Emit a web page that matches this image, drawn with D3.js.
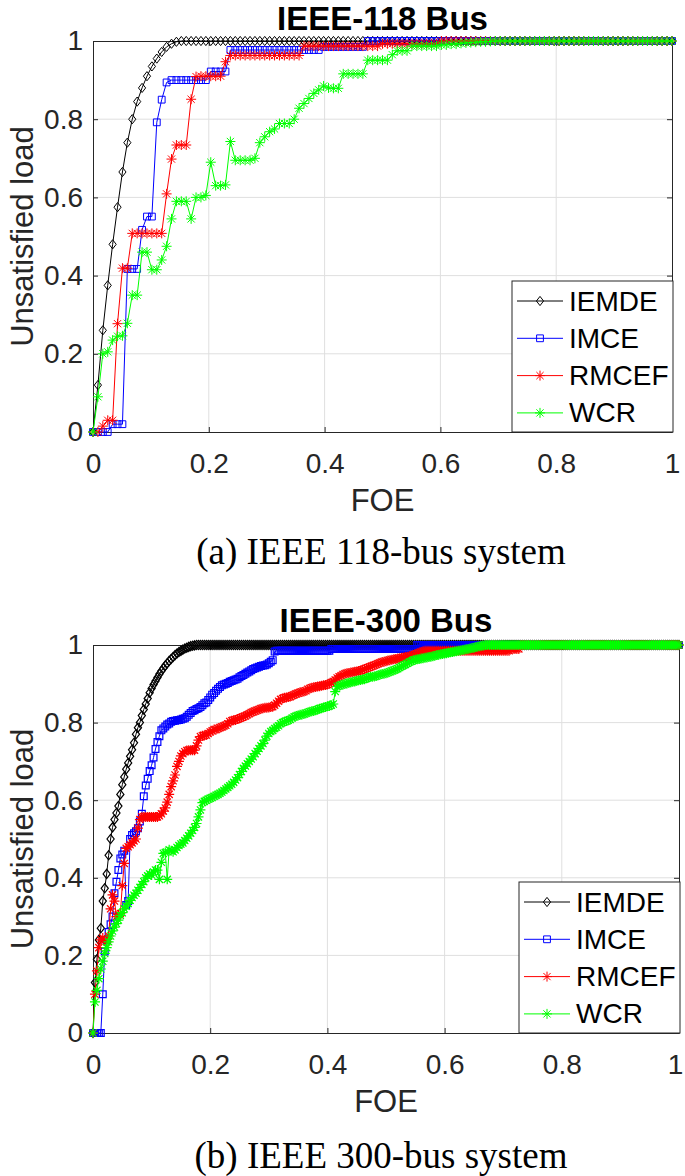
<!DOCTYPE html>
<html>
<head>
<meta charset="utf-8">
<script src="https://cdn.jsdelivr.net/npm/d3@7"></script>
<style>
  body { margin: 0; background: #ffffff; }
  svg { display: block; }
</style>
</head>
<body>
<svg id="chart" width="685" height="1176"></svg>
<script>
'use strict';

// ---- data -----------------------------------------------------------
// FOE is sampled on a uniform grid: point i sits at FOE = i / steps.
const steps118 = 118;
const steps300 = 300;

const seriesNames = ['IEMDE', 'IMCE', 'RMCEF', 'WCR'];
const xTickValues = [0, 0.2, 0.4, 0.6, 0.8, 1];
const yTickValues = [0, 0.2, 0.4, 0.6, 0.8, 1];

// IEEE-118, 119 values each
const iemde118 = [
    0, .12, .26, .375, .48, .575, .665, .74, .80, .845,
    .88, .91, .935, .955, .972, .985, .993, .998, 1, 1,
    1, 1, 1, 1, 1, 1, 1, 1, 1, 1,
    1, 1, 1, 1, 1, 1, 1, 1, 1, 1,
    1, 1, 1, 1, 1, 1, 1, 1, 1, 1,
    1, 1, 1, 1, 1, 1, 1, 1, 1, 1,
    1, 1, 1, 1, 1, 1, 1, 1, 1, 1,
    1, 1, 1, 1, 1, 1, 1, 1, 1, 1,
    1, 1, 1, 1, 1, 1, 1, 1, 1, 1,
    1, 1, 1, 1, 1, 1, 1, 1, 1, 1,
    1, 1, 1, 1, 1, 1, 1, 1, 1, 1,
    1, 1, 1, 1, 1, 1, 1, 1, 1
];
const imce118 = [
    0, 0, 0, 0, .02, .02, .02, .417, .417, .417,
    .517, .551, .551, .792, .85, .894, .90, .90, .90, .90,
    .90, .90, .90, .90, .922, .922, .922, .922, .977, .977,
    .977, .977, .977, .977, .977, .977, .977, .977, .977, .977,
    .977, .977, .977, .977, .977, .977, .977, .985, .985, .985,
    .985, .985, .985, .985, .985, .985, 1, 1, 1, 1,
    1, 1, 1, 1, 1, 1, 1, 1, 1, 1,
    1, 1, 1, 1, 1, 1, 1, 1, 1, 1,
    1, 1, 1, 1, 1, 1, 1, 1, 1, 1,
    1, 1, 1, 1, 1, 1, 1, 1, 1, 1,
    1, 1, 1, 1, 1, 1, 1, 1, 1, 1,
    1, 1, 1, 1, 1, 1, 1, 1, 1
];
const rmcef118 = [
    0, 0, .015, .03, .03, .277, .419, .419, .508, .508,
    .508, .508, .508, .508, .508, .609, .698, .734, .734, .734,
    .851, .909, .91, .91, .91, .91, .91, .947, .963, .963,
    .963, .963, .963, .963, .963, .963, .963, .963, .963, .963,
    .963, .963, .963, .987, .987, .987, .987, .987, .987, .987,
    .987, .987, .987, .987, .987, .987, .987, .987, .987, .993,
    .993, .993, .993, .993, .993, .993, .993, .993, .993, .993,
    .993, 1, 1, 1, 1, 1, 1, 1, 1, 1,
    1, 1, 1, 1, 1, 1, 1, 1, 1, 1,
    1, 1, 1, 1, 1, 1, 1, 1, 1, 1,
    1, 1, 1, 1, 1, 1, 1, 1, 1, 1,
    1, 1, 1, 1, 1, 1, 1, 1, 1
];
const wcr118 = [
    0, .09, .20, .205, .235, .245, .246, .278, .35, .35,
    .46, .46, .415, .415, .44, .475, .545, .59, .59, .59,
    .545, .60, .60, .605, .69, .63, .63, .632, .743, .695,
    .695, .695, .695, .70, .74, .755, .768, .775, .789, .789,
    .789, .80, .828, .84, .853, .866, .875, .885, .88, .879,
    .879, .916, .916, .916, .916, .916, .951, .951, .951, .951,
    .951, .965, .975, .975, .975, .987, .987, .987, .987, .987,
    .987, .99, .99, .992, .992, .994, .995, .996, .997, .998,
    .998, .999, 1, 1, 1, 1, 1, 1, 1, 1,
    1, 1, 1, 1, 1, 1, 1, 1, 1, 1,
    1, 1, 1, 1, 1, 1, 1, 1, 1, 1,
    1, 1, 1, 1, 1, 1, 1, 1, 1
];

// IEEE-300, 301 values each
const iemde300 = [
    0, .13, .19, .24, .27, .34, .373, .41, .458, .50,
    .53, .55, .567, .585, .615, .64, .66, .68, .696, .713,
    .73, .748, .77, .787, .80, .818, .834, .848, .862, .877,
    .888, .898, .907, .916, .925, .933, .94, .947, .953, .959,
    .964, .969, .974, .978, .982, .985, .988, .991, .993, .995,
    .997, .998, .999, 1, 1, 1, 1, 1, 1, 1,
    1, 1, 1, 1, 1, 1, 1, 1, 1, 1,
    1, 1, 1, 1, 1, 1, 1, 1, 1, 1,
    1, 1, 1, 1, 1, 1, 1, 1, 1, 1,
    1, 1, 1, 1, 1, 1, 1, 1, 1, 1,
    1, 1, 1, 1, 1, 1, 1, 1, 1, 1,
    1, 1, 1, 1, 1, 1, 1, 1, 1, 1,
    1, 1, 1, 1, 1, 1, 1, 1, 1, 1,
    1, 1, 1, 1, 1, 1, 1, 1, 1, 1,
    1, 1, 1, 1, 1, 1, 1, 1, 1, 1,
    1, 1, 1, 1, 1, 1, 1, 1, 1, 1,
    1, 1, 1, 1, 1, 1, 1, 1, 1, 1,
    1, 1, 1, 1, 1, 1, 1, 1, 1, 1,
    1, 1, 1, 1, 1, 1, 1, 1, 1, 1,
    1, 1, 1, 1, 1, 1, 1, 1, 1, 1,
    1, 1, 1, 1, 1, 1, 1, 1, 1, 1,
    1, 1, 1, 1, 1, 1, 1, 1, 1, 1,
    1, 1, 1, 1, 1, 1, 1, 1, 1, 1,
    1, 1, 1, 1, 1, 1, 1, 1, 1, 1,
    1, 1, 1, 1, 1, 1, 1, 1, 1, 1,
    1, 1, 1, 1, 1, 1, 1, 1, 1, 1,
    1, 1, 1, 1, 1, 1, 1, 1, 1, 1,
    1, 1, 1, 1, 1, 1, 1, 1, 1, 1,
    1, 1, 1, 1, 1, 1, 1, 1, 1, 1,
    1, 1, 1, 1, 1, 1, 1, 1, 1, 1,
    1
];
const imce300 = [
    0, 0, 0, 0, 0, .10, .21, .24, .26, .28,
    .30, .36, .39, .42, .45, .46, .47, .33, .34, .50,
    .51, .515, .52, .528, .545, .565, .61, .638, .655, .675,
    .69, .71, .732, .75, .765, .78, .785, .79, .795, .798,
    .802, .804, .805, .806, .807, .808, .81, .811, .815, .82,
    .825, .83, .832, .835, .837, .84, .845, .85, .852, .858,
    .865, .872, .876, .882, .887, .892, .896, .898, .90, .902,
    .905, .907, .909, .911, .913, .917, .92, .923, .926, .929,
    .932, .935, .938, .94, .942, .944, .946, .947, .948, .95,
    .953, .957, .961, .983, .985, .985, .985, .985, .985, .985,
    .985, .985, .985, .985, .985, .985, .985, .985, .985, .985,
    .985, .985, .985, .985, .985, .985, .985, .985, .985, .985,
    .985, .985, .99, .99, .99, .99, .99, .99, .99, .99,
    .99, .99, .99, .99, .99, .99, .99, .99, .99, .99,
    .99, .99, .99, .99, .99, .99, .99, .99, .99, .99,
    .99, .99, .99, .99, .99, .99, .99, .99, .99, .99,
    .99, .99, .99, .99, .99, .99, 1, 1, 1, 1,
    1, 1, 1, 1, 1, 1, 1, 1, 1, 1,
    1, 1, 1, 1, 1, 1, 1, 1, 1, 1,
    1, 1, 1, 1, 1, 1, 1, 1, 1, 1,
    1, 1, 1, 1, 1, 1, 1, 1, 1, 1,
    1, 1, 1, 1, 1, 1, 1, 1, 1, 1,
    1, 1, 1, 1, 1, 1, 1, 1, 1, 1,
    1, 1, 1, 1, 1, 1, 1, 1, 1, 1,
    1, 1, 1, 1, 1, 1, 1, 1, 1, 1,
    1, 1, 1, 1, 1, 1, 1, 1, 1, 1,
    1, 1, 1, 1, 1, 1, 1, 1, 1, 1,
    1, 1, 1, 1, 1, 1, 1, 1, 1, 1,
    1, 1, 1, 1, 1, 1, 1, 1, 1, 1,
    1, 1, 1, 1, 1, 1, 1, 1, 1, 1,
    1
];
const rmcef300 = [
    0, .10, .16, .22, .24, .245, .24, .235, .25, .32,
    .356, .34, .30, .305, .308, .38, .437, .476, .48, .485,
    .49, .495, .50, .528, .55, .557, .557, .557, .557, .557,
    .557, .557, .557, .557, .56, .565, .572, .58, .595, .615,
    .635, .65, .665, .687, .70, .714, .72, .725, .728, .729,
    .729, .729, .729, .74, .755, .764, .766, .767, .768, .772,
    .776, .779, .782, .782, .785, .787, .789, .791, .793, .797,
    .803, .805, .806, .807, .809, .811, .813, .815, .817, .82,
    .823, .826, .828, .83, .832, .834, .836, .837, .838, .838,
    .839, .84, .841, .845, .85, .855, .86, .862, .864, .865,
    .866, .867, .87, .872, .874, .876, .878, .879, .88, .882,
    .886, .888, .89, .891, .892, .893, .894, .895, .896, .897,
    .898, .90, .903, .906, .91, .915, .918, .921, .924, .926,
    .927, .928, .929, .93, .931, .932, .933, .934, .936, .938,
    .94, .942, .944, .946, .948, .95, .952, .954, .956, .957,
    .958, .96, .961, .962, .963, .964, .965, .966, .967, .968,
    .969, .97, .971, .972, .974, .976, .978, .98, .982, .984,
    .985, .985, .985, .985, .985, .985, .985, .985, .985, .985,
    .985, .985, .985, .985, .985, .985, .985, .985, .985, .985,
    .985, .985, .985, .985, .985, .985, .985, .985, .985, .985,
    .985, .985, .985, .985, .985, .985, .985, .985, .985, .985,
    .985, .985, .985, .985, .99, .99, .99, .99, .99, 1,
    1, 1, 1, 1, 1, 1, 1, 1, 1, 1,
    1, 1, 1, 1, 1, 1, 1, 1, 1, 1,
    1, 1, 1, 1, 1, 1, 1, 1, 1, 1,
    1, 1, 1, 1, 1, 1, 1, 1, 1, 1,
    1, 1, 1, 1, 1, 1, 1, 1, 1, 1,
    1, 1, 1, 1, 1, 1, 1, 1, 1, 1,
    1, 1, 1, 1, 1, 1, 1, 1, 1, 1,
    1, 1, 1, 1, 1, 1, 1, 1, 1, 1,
    1
];
const wcr300 = [
    0, .08, .11, .14, .165, .185, .205, .22, .235, .25,
    .263, .273, .282, .291, .303, .31, .32, .327, .334, .342,
    .349, .355, .36, .368, .375, .383, .39, .40, .405, .41,
    .407, .415, .42, .42, .396, .44, .463, .465, .396, .472,
    .47, .467, .472, .478, .483, .487, .49, .496, .502, .508,
    .515, .522, .53, .54, .557, .575, .594, .597, .60, .603,
    .605, .607, .61, .613, .615, .618, .621, .625, .629, .633,
    .637, .641, .646, .652, .658, .666, .674, .682, .688, .694,
    .70, .706, .712, .72, .726, .733, .74, .746, .755, .765,
    .772, .777, .78, .785, .788, .792, .797, .80, .802, .804,
    .806, .808, .812, .815, .817, .818, .82, .821, .822, .824,
    .826, .828, .829, .83, .832, .834, .836, .837, .839, .84,
    .842, .843, .845, .848, .88, .893, .895, .897, .898, .90,
    .901, .903, .904, .905, .906, .908, .909, .91, .911, .912,
    .914, .916, .918, .918, .919, .92, .922, .924, .925, .926,
    .927, .929, .931, .933, .935, .937, .939, .942, .945, .948,
    .95, .953, .956, .958, .961, .962, .963, .964, .965, .966,
    .967, .968, .969, .97, .971, .972, .974, .975, .976, .977,
    .978, .979, .98, .981, .982, .983, .984, .985, .986, .987,
    .988, .989, .99, .991, .992, .993, .995, .996, .997, .998,
    .999, 1, 1, 1, 1, 1, 1, 1, 1, 1,
    1, 1, 1, 1, 1, 1, 1, 1, 1, 1,
    1, 1, 1, 1, 1, 1, 1, 1, 1, 1,
    1, 1, 1, 1, 1, 1, 1, 1, 1, 1,
    1, 1, 1, 1, 1, 1, 1, 1, 1, 1,
    1, 1, 1, 1, 1, 1, 1, 1, 1, 1,
    1, 1, 1, 1, 1, 1, 1, 1, 1, 1,
    1, 1, 1, 1, 1, 1, 1, 1, 1, 1,
    1, 1, 1, 1, 1, 1, 1, 1, 1, 1,
    1, 1, 1, 1, 1, 1, 1, 1, 1, 1,
    1
];

// ---- styles ---------------------------------------------------------
const sansFont = "'Liberation Sans', Arial, Helvetica, sans-serif";
const serifFont = "'Liberation Serif', 'Times New Roman', serif";
const axisColor = '#262626';
const gridColor = '#dfdfdf';
const seriesColors = ['#000000', '#0000ff', '#ff0000', '#00ff00'];

// MATLAB-like markers as d3 symbol types (size = half height)
const markerDiamond = {
    draw(context, r) {
        context.moveTo(0, -r);
        context.lineTo(r * 0.78, 0);
        context.lineTo(0, r);
        context.lineTo(-r * 0.78, 0);
        context.closePath();
    }
};
const markerSquare = {
    draw(context, r) {
        context.rect(-r, -r, r * 2, r * 2);
    }
};
const markerStar = {
    draw(context, r) {
        const d = r * 0.72;
        context.moveTo(-r, 0); context.lineTo(r, 0);
        context.moveTo(0, -r); context.lineTo(0, r);
        context.moveTo(-d, -d); context.lineTo(d, d);
        context.moveTo(-d, d); context.lineTo(d, -d);
    }
};
const seriesMarkers = [
    {type: markerDiamond, size: 4.6},
    {type: markerSquare, size: 3.4},
    {type: markerStar, size: 5},
    {type: markerStar, size: 5}
];

const panels = [
    {
        title: 'IEEE-118 Bus',
        caption: '(a) IEEE 118-bus system',
        steps: steps118,
        series: [iemde118, imce118, rmcef118, wcr118],
        frame: {left: 93, right: 672, top: 41, bottom: 432},
        markerStroke: 1,
        titleY: 30,
        captionY: 564
    },
    {
        title: 'IEEE-300 Bus',
        caption: '(b) IEEE 300-bus system',
        steps: steps300,
        series: [iemde300, imce300, rmcef300, wcr300],
        frame: {left: 93, right: 679, top: 645, bottom: 1033},
        markerStroke: 1.2,
        titleY: 632,
        captionY: 1168
    }
];

const svg = d3.select('#chart');

/**
 * Draws one MATLAB style panel: grid, box axes, four marked lines and a legend
 * @param  {Object} panel panel config
 */
function drawPanel(panel) {
    const {left, right, top, bottom} = panel.frame;
    const x = d3.scaleLinear().domain([0, 1]).range([left, right]);
    const y = d3.scaleLinear().domain([0, 1]).range([bottom, top]);
    const g = svg.append('g').classed('panel', true);

    // grid
    g.append('g')
        .selectAll('line')
        .data(xTickValues.slice(1, -1))
        .join('line')
        .attr('x1', d => x(d)).attr('x2', d => x(d))
        .attr('y1', top).attr('y2', bottom)
        .attr('stroke', gridColor).attr('stroke-width', 1);
    g.append('g')
        .selectAll('line')
        .data(yTickValues.slice(1, -1))
        .join('line')
        .attr('y1', d => y(d)).attr('y2', d => y(d))
        .attr('x1', left).attr('x2', right)
        .attr('stroke', gridColor).attr('stroke-width', 1);

    // axes, ticks pointing in
    const fmt = d3.format('~g');
    const bottomAxis = g.append('g')
        .attr('transform', `translate(0,${bottom})`)
        .call(d3.axisBottom(x).tickValues(xTickValues).tickFormat(fmt)
            .tickSizeInner(-5).tickSizeOuter(0).tickPadding(21));
    const leftAxis = g.append('g')
        .attr('transform', `translate(${left},0)`)
        .call(d3.axisLeft(y).tickValues(yTickValues).tickFormat(fmt)
            .tickSizeInner(-5).tickSizeOuter(0).tickPadding(10));
    const topAxis = g.append('g')
        .attr('transform', `translate(0,${top})`)
        .call(d3.axisTop(x).tickValues(xTickValues).tickFormat('')
            .tickSizeInner(-5).tickSizeOuter(0));
    const rightAxis = g.append('g')
        .attr('transform', `translate(${right},0)`)
        .call(d3.axisRight(y).tickValues(yTickValues).tickFormat('')
            .tickSizeInner(-5).tickSizeOuter(0));

    [bottomAxis, leftAxis, topAxis, rightAxis].forEach(a => {
        a.select('.domain').attr('stroke', axisColor).attr('stroke-width', 1);
        a.selectAll('.tick line').attr('stroke', axisColor);
        a.selectAll('.tick text')
            .attr('fill', axisColor)
            .style('font-family', sansFont)
            .style('font-size', '28px');
    });
    // keep the last x label inside the page
    bottomAxis.selectAll('.tick text')
        .filter(d => d === 1)
        .attr('dx', right > 675 ? -4 : 0);

    // series, in plot order so the green one ends on top
    const line = d3.line()
        .x((d, i) => x(i / panel.steps))
        .y(d => y(d));

    panel.series.forEach((values, k) => {
        const sg = g.append('g').classed('series series-' + k, true);
        sg.append('path')
            .datum(values)
            .attr('d', line)
            .attr('fill', 'none')
            .attr('stroke', seriesColors[k])
            .attr('stroke-width', 1);
        const symbol = d3.symbol().type(seriesMarkers[k].type).size(seriesMarkers[k].size);
        sg.selectAll('path.marker')
            .data(values)
            .join('path')
            .classed('marker', true)
            .attr('transform', (d, i) => `translate(${x(i / panel.steps)},${y(d)})`)
            .attr('d', symbol)
            .attr('fill', 'none')
            .attr('stroke', seriesColors[k])
            .attr('stroke-width', panel.markerStroke);
    });

    // labels
    g.append('text')
        .attr('x', (left + right) / 2)
        .attr('y', panel.titleY)
        .attr('text-anchor', 'middle')
        .style('font-family', sansFont)
        .style('font-size', '33px')
        .style('font-weight', 'bold')
        .attr('fill', '#000')
        .text(panel.title);

    g.append('text')
        .attr('x', (left + right) / 2)
        .attr('y', bottom + 79)
        .attr('text-anchor', 'middle')
        .style('font-family', sansFont)
        .style('font-size', '31px')
        .attr('fill', axisColor)
        .text('FOE');

    g.append('text')
        .attr('transform', `translate(22,${(top + bottom) / 2}) rotate(-90)`)
        .attr('text-anchor', 'middle')
        .attr('dominant-baseline', 'central')
        .style('font-family', sansFont)
        .style('font-size', '31px')
        .attr('fill', axisColor)
        .text('Unsatisfied load');

    g.append('text')
        .attr('x', 381)
        .attr('y', panel.captionY)
        .attr('text-anchor', 'middle')
        .style('font-family', serifFont)
        .style('font-size', '37px')
        .attr('fill', '#000')
        .text(panel.caption);

    drawLegend(g, right, bottom);
}

/**
 * Legend box anchored to the lower right corner of the axes
 */
function drawLegend(g, right, bottom) {
    const boxWidth = 161,
        boxHeight = 151,
        rowGap = 37.3;
    const lg = g.append('g')
        .classed('legend', true)
        .attr('transform', `translate(${right + 1 - boxWidth},${bottom - boxHeight})`);

    lg.append('rect')
        .attr('width', boxWidth).attr('height', boxHeight)
        .attr('fill', '#ffffff')
        .attr('stroke', axisColor).attr('stroke-width', 1);

    seriesNames.forEach((name, k) => {
        const row = lg.append('g')
            .attr('transform', `translate(0,${20 + k * rowGap})`);
        row.append('line')
            .attr('x1', 5).attr('x2', 51)
            .attr('stroke', seriesColors[k]).attr('stroke-width', 1);
        row.append('path')
            .attr('transform', 'translate(28,0)')
            .attr('d', d3.symbol().type(seriesMarkers[k].type).size(seriesMarkers[k].size)())
            .attr('fill', 'none')
            .attr('stroke', seriesColors[k]);
        row.append('text')
            .attr('x', 57)
            .attr('dominant-baseline', 'central')
            .style('font-family', sansFont)
            .style('font-size', '28px')
            .attr('fill', '#000')
            .text(name);
    });
}

panels.forEach(drawPanel);
</script>
</body>
</html>
